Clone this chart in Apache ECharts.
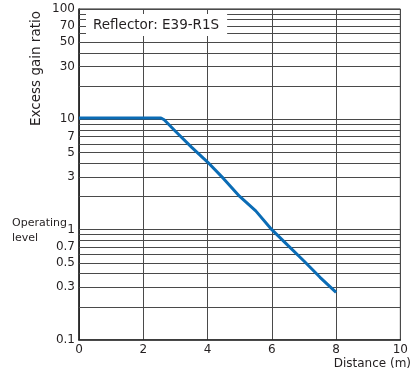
<!DOCTYPE html>
<html>
<head>
<meta charset="utf-8">
<script src="https://cdn.jsdelivr.net/npm/echarts@6/dist/echarts.min.js"></script>
<style>
  html, body { margin: 0; padding: 0; background: #fff; }
  #chart { width: 411px; height: 374px; }
</style>
</head>
<body>
<div id="chart"></div>
<script>
// distance (m) vs excess gain ratio
const distance = [0, 2.55, 2.65, 3, 3.5, 4, 4.5, 5, 5.5, 6, 6.5, 7, 7.5, 8];
const gainRatio = [10.3, 10.3, 9.9, 7.8, 5.6, 4.1, 2.9, 2.0, 1.48, 1.0, 0.72, 0.52, 0.37, 0.27];

// horizontal grid lines of the log axis and the ones that carry a label
const yGridValues = [0.1, 0.2, 0.3, 0.4, 0.5, 0.6, 0.7, 0.8, 0.9,
  1, 2, 3, 4, 5, 6, 7, 8, 9,
  10, 20, 30, 40, 50, 60, 70, 80, 90, 100];
const yLabelValues = [0.1, 0.3, 0.5, 0.7, 1, 3, 5, 7, 10, 30, 50, 70, 100];
const xTicks = [0, 2, 4, 6, 8, 10];

const FONT = "DejaVu Sans";
const TEXT = "#231f20";
const GRID = "#4a4a4a";

const chart = echarts.init(document.getElementById("chart"));

const gridLines = yGridValues.map(v => ({
  yAxis: v,
  label: {
    show: yLabelValues.indexOf(v) >= 0,
    formatter: String(v)
  }
}));

chart.setOption({
  animation: false,
  title: {
    text: "Reflector: E39-R1S",
    left: 86,
    top: 14,
    backgroundColor: "#fff",
    padding: [4, 8, 4, 7],
    textStyle: {
      fontFamily: FONT,
      fontSize: 13.5,
      fontWeight: "normal",
      color: TEXT,
      lineHeight: 14
    }
  },
  grid: {
    left: 79,
    right: 1,
    top: 9,
    bottom: 34,
    show: true,
    borderColor: "#222",
    borderWidth: 1
  },
  xAxis: {
    type: "value",
    min: xTicks[0],
    max: xTicks[xTicks.length - 1],
    interval: 2,
    axisLine: { show: true, lineStyle: { color: "#222", width: 1.5 } },
    axisTick: { show: false },
    axisLabel: {
      fontFamily: FONT,
      fontSize: 12,
      color: TEXT,
      margin: 4
    },
    splitLine: { show: true, lineStyle: { color: GRID, width: 1 } }
  },
  yAxis: {
    type: "log",
    logBase: 10,
    min: 0.1,
    max: 100,
    axisLine: { show: true, lineStyle: { color: "#222", width: 1.5 } },
    axisTick: { show: false },
    axisLabel: { show: false },
    splitLine: { show: false }
  },
  graphic: [
    {
      type: "text",
      left: 29,
      top: 11,
      rotation: Math.PI / 2,
      style: {
        text: "Excess gain ratio",
        font: "13.5px " + FONT,
        fill: TEXT
      }
    },
    {
      type: "text",
      left: 12,
      top: 216,
      style: {
        text: "Operating\nlevel",
        font: "11px " + FONT,
        fill: TEXT,
        lineHeight: 15
      }
    },
    {
      type: "text",
      right: 0,
      top: 358,
      style: {
        text: "Distance (m)",
        font: "12px " + FONT,
        fill: TEXT
      }
    }
  ],
  series: [
    {
      type: "line",
      data: distance.map((d, i) => [d, gainRatio[i]]),
      showSymbol: false,
      smooth: false,
      z: 5,
      lineStyle: { color: "#0b6cb5", width: 3 },
      markLine: {
        silent: true,
        symbol: "none",
        animation: false,
        lineStyle: { color: GRID, width: 1, type: "solid" },
        label: {
          position: "start",
          distance: 4,
          fontFamily: FONT,
          fontSize: 12,
          color: TEXT
        },
        data: gridLines
      }
    }
  ]
});
</script>
</body>
</html>
